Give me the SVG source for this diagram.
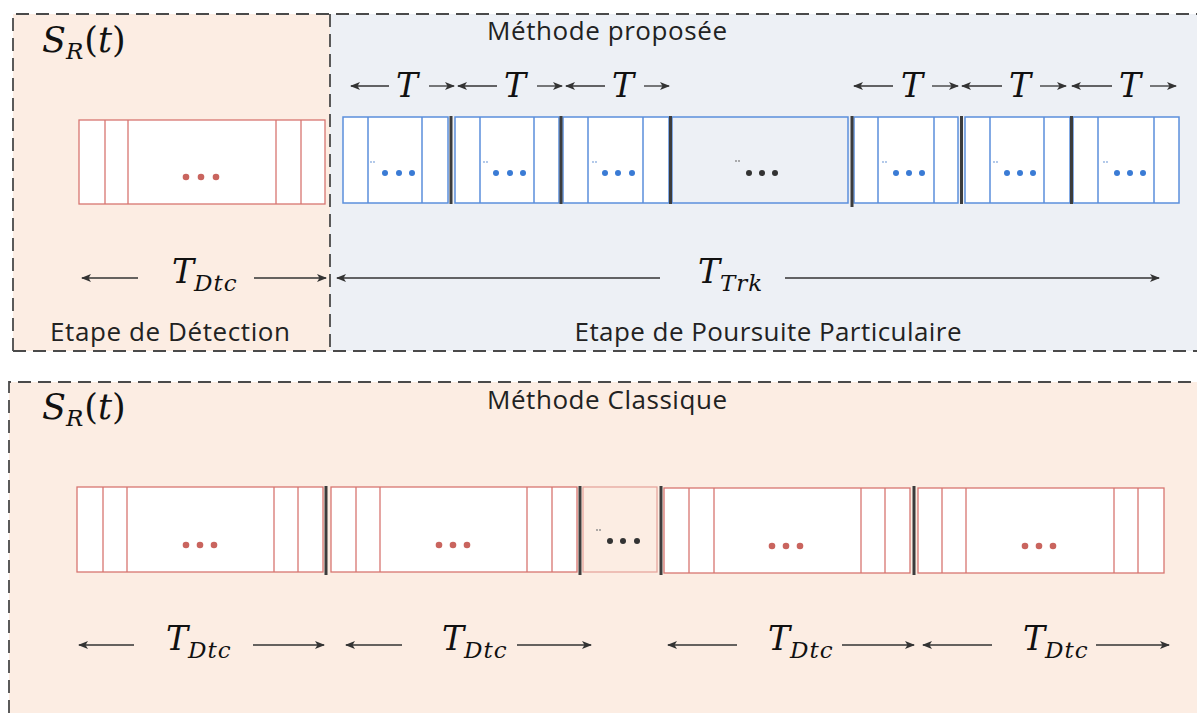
<svg xmlns="http://www.w3.org/2000/svg" width="1197" height="713" viewBox="0 0 1197 713">
<defs>
<marker id="ah" viewBox="0 0 10 8" refX="9" refY="4" markerWidth="10" markerHeight="8" markerUnits="userSpaceOnUse" orient="auto">
<path d="M0,0 L10,4 L0,8 L2.5,4 Z" fill="#333"/>
</marker>
<style>
.dash{fill:none;stroke:#4a4a4a;stroke-width:1.8;stroke-dasharray:13 7}
.lbl{font-family:"Open Sans","Liberation Sans",sans-serif;font-size:26px;fill:#222}
.m{font-family:"DejaVu Serif","Liberation Serif",serif;font-style:italic;fill:#111}
.T{font-size:33px}
.S{font-size:35px}
.sub{font-size:23px;letter-spacing:1px}
.arr{stroke:#333;stroke-width:1.3;fill:none;marker-end:url(#ah)}
.rb{fill:#fff;stroke:#D87671;stroke-width:1.3}
.rl{stroke:#D87671;stroke-width:1.3}
.bb{fill:#fff;stroke:#5B8FDC;stroke-width:1.5}
.bl{stroke:#5B8FDC;stroke-width:1.5}
.sep{stroke:#3c3c3c;stroke-width:3}
.rd{fill:#C9645E}
.bd{fill:#3A7BD5}
.kd{fill:#333}
.td{fill:#8FB0E0}
</style>
</defs>
<g id="panels">
<rect x="13" y="14" width="317" height="337" fill="#FCEDE3"/>
<rect x="330" y="14" width="870" height="337" fill="#EDF0F5"/>
<rect x="9" y="382" width="1190" height="335" fill="#FCEDE3"/>
<path class="dash" d="M13,351 L13,14 L1200,14 M13,351 L1200,351"/>
<path class="dash" d="M330,14 L330,351"/>
<path class="dash" d="M9,713 L9,382 L1200,382"/>
</g>
<g id="titles">
<text class="lbl" x="607" y="40" text-anchor="middle" textLength="240" lengthAdjust="spacing">Méthode proposée</text>
<text class="lbl" x="607" y="409" text-anchor="middle" textLength="240" lengthAdjust="spacing">Méthode Classique</text>
<text class="lbl" x="170" y="341" text-anchor="middle" textLength="240" lengthAdjust="spacing">Etape de Détection</text>
<text class="lbl" x="768" y="341" text-anchor="middle" textLength="387" lengthAdjust="spacing">Etape de Poursuite Particulaire</text>
<text class="m S" x="42" y="52">S<tspan class="sub" dy="7">R</tspan><tspan dy="-7" font-style="normal">(</tspan>t<tspan font-style="normal">)</tspan></text>
<text class="m S" x="42" y="419">S<tspan class="sub" dy="7">R</tspan><tspan dy="-7" font-style="normal">(</tspan>t<tspan font-style="normal">)</tspan></text>
</g>
<g id="detection-block">
<rect class="rb" x="79" y="120" width="246" height="84"/>
<path class="rl" d="M105,120V204M128,120V204M276,120V204M301,120V204"/>
<circle class="rd" cx="186" cy="177" r="3.3"/><circle class="rd" cx="201" cy="177" r="3.3"/><circle class="rd" cx="216" cy="177" r="3.3"/>
</g>
<g id="tracking-blocks">
<rect class="bb" x="343" y="117" width="105" height="86"/><path class="bl" d="M368,117V203M422,117V203"/>
<rect class="bb" x="455" y="117" width="104" height="86"/><path class="bl" d="M480,117V203M534,117V203"/>
<rect class="bb" x="563" y="117" width="106" height="86"/><path class="bl" d="M588,117V203M643,117V203"/>
<rect x="672" y="117" width="176" height="86" fill="none" stroke="#5B8FDC" stroke-width="1.5"/>
<rect class="bb" x="854" y="117" width="104" height="86"/><path class="bl" d="M878,117V203M934,117V203"/>
<rect class="bb" x="965" y="117" width="105" height="86"/><path class="bl" d="M990,117V203M1044,117V203"/>
<rect class="bb" x="1073" y="117" width="106" height="86"/><path class="bl" d="M1098,117V203M1154,117V203"/>
<path class="sep" d="M451,116V204M561,116V204M670.5,116V204M852,116V207M961.5,116V204M1071.5,116V204"/>
<g class="bd">
<circle cx="385" cy="173" r="3"/><circle cx="399" cy="173" r="3"/><circle cx="412" cy="173" r="3"/>
<circle cx="496" cy="173" r="3"/><circle cx="510" cy="173" r="3"/><circle cx="523" cy="173" r="3"/>
<circle cx="605" cy="173" r="3"/><circle cx="618" cy="173" r="3"/><circle cx="632" cy="173" r="3"/>
<circle cx="896" cy="173" r="3"/><circle cx="909" cy="173" r="3"/><circle cx="922" cy="173" r="3"/>
<circle cx="1007" cy="173" r="3"/><circle cx="1020" cy="173" r="3"/><circle cx="1033" cy="173" r="3"/>
<circle cx="1117" cy="173" r="3"/><circle cx="1130" cy="173" r="3"/><circle cx="1143" cy="173" r="3"/>
</g>
<g class="kd"><circle cx="749" cy="173" r="3"/><circle cx="762" cy="173" r="3"/><circle cx="775" cy="173" r="3"/></g>
<g class="td">
<circle cx="371" cy="162" r="0.9"/><circle cx="374" cy="162" r="0.9"/>
<circle cx="484" cy="162" r="0.9"/><circle cx="487" cy="162" r="0.9"/>
<circle cx="593" cy="162" r="0.9"/><circle cx="596" cy="162" r="0.9"/>
<circle cx="883" cy="162" r="0.9"/><circle cx="886" cy="162" r="0.9"/>
<circle cx="994" cy="162" r="0.9"/><circle cx="997" cy="162" r="0.9"/>
<circle cx="1104" cy="162" r="0.9"/><circle cx="1107" cy="162" r="0.9"/>
</g>
<circle cx="736" cy="161" r="0.9" fill="#888"/><circle cx="739" cy="161" r="0.9" fill="#888"/>
</g>
<g id="classic-blocks">
<rect class="rb" x="77" y="487" width="246" height="85"/><path class="rl" d="M103,487V572M127,487V572M274,487V572M298,487V572"/>
<rect class="rb" x="331" y="487" width="246" height="85"/><path class="rl" d="M356,487V572M380,487V572M527,487V572M552,487V572"/>
<rect x="583" y="487" width="74" height="85" fill="none" stroke="#E6A69E" stroke-width="1.3"/>
<rect class="rb" x="664" y="488" width="246" height="85"/><path class="rl" d="M689,488V573M714,488V573M861,488V573M885,488V573"/>
<rect class="rb" x="918" y="488" width="246" height="85"/><path class="rl" d="M942,488V573M966,488V573M1114,488V573M1138,488V573"/>
<path class="sep" d="M326,486V575M580,486V575M661,486V575M914,486V575"/>
<g class="rd">
<circle cx="186" cy="545" r="3.3"/><circle cx="200" cy="545" r="3.3"/><circle cx="214" cy="545" r="3.3"/>
<circle cx="439" cy="545" r="3.3"/><circle cx="453" cy="545" r="3.3"/><circle cx="467" cy="545" r="3.3"/>
<circle cx="772" cy="546" r="3.3"/><circle cx="786" cy="546" r="3.3"/><circle cx="800" cy="546" r="3.3"/>
<circle cx="1025" cy="546" r="3.3"/><circle cx="1039" cy="546" r="3.3"/><circle cx="1053" cy="546" r="3.3"/>
</g>
<g class="kd"><circle cx="610" cy="541" r="3"/><circle cx="623" cy="541" r="3"/><circle cx="637" cy="541" r="3"/></g>
<circle cx="597" cy="530" r="0.9" fill="#888"/><circle cx="600" cy="530" r="0.9" fill="#888"/>
</g>
<g id="connectors">
<line class="arr" x1="389" y1="86" x2="351" y2="86"/><line class="arr" x1="429" y1="86" x2="454" y2="86"/>
<line class="arr" x1="497" y1="86" x2="458" y2="86"/><line class="arr" x1="537" y1="86" x2="562" y2="86"/>
<line class="arr" x1="605" y1="86" x2="566" y2="86"/><line class="arr" x1="644" y1="86" x2="669" y2="86"/>
<line class="arr" x1="893" y1="86" x2="854" y2="86"/><line class="arr" x1="932" y1="86" x2="958" y2="86"/>
<line class="arr" x1="1002" y1="86" x2="962" y2="86"/><line class="arr" x1="1040" y1="86" x2="1066" y2="86"/>
<line class="arr" x1="1112" y1="86" x2="1072" y2="86"/><line class="arr" x1="1150" y1="86" x2="1176" y2="86"/>
<line class="arr" x1="138" y1="278" x2="82" y2="278"/><line class="arr" x1="254" y1="278" x2="326" y2="278"/>
<line class="arr" x1="660" y1="278" x2="337" y2="278"/><line class="arr" x1="785" y1="278" x2="1159" y2="278"/>
<line class="arr" x1="134" y1="645" x2="79" y2="645"/><line class="arr" x1="253" y1="645" x2="324" y2="645"/>
<line class="arr" x1="402" y1="645" x2="346" y2="645"/><line class="arr" x1="517" y1="645" x2="591" y2="645"/>
<line class="arr" x1="737" y1="645" x2="668" y2="645"/><line class="arr" x1="842" y1="645" x2="914" y2="645"/>
<line class="arr" x1="992" y1="645" x2="923" y2="645"/><line class="arr" x1="1096" y1="645" x2="1169" y2="645"/>
</g>
<g id="labels">
<text class="m T" x="407" y="97" text-anchor="middle">T</text>
<text class="m T" x="515" y="97" text-anchor="middle">T</text>
<text class="m T" x="623" y="97" text-anchor="middle">T</text>
<text class="m T" x="912" y="97" text-anchor="middle">T</text>
<text class="m T" x="1020" y="97" text-anchor="middle">T</text>
<text class="m T" x="1130" y="97" text-anchor="middle">T</text>
<text class="m T" x="172" y="283">T<tspan class="sub" dy="8">Dtc</tspan></text>
<text class="m T" x="698" y="283">T<tspan class="sub" dy="8">Trk</tspan></text>
<text class="m T" x="166" y="650">T<tspan class="sub" dy="8">Dtc</tspan></text>
<text class="m T" x="442" y="650">T<tspan class="sub" dy="8">Dtc</tspan></text>
<text class="m T" x="768" y="650">T<tspan class="sub" dy="8">Dtc</tspan></text>
<text class="m T" x="1023" y="650">T<tspan class="sub" dy="8">Dtc</tspan></text>
</g>
</svg>
